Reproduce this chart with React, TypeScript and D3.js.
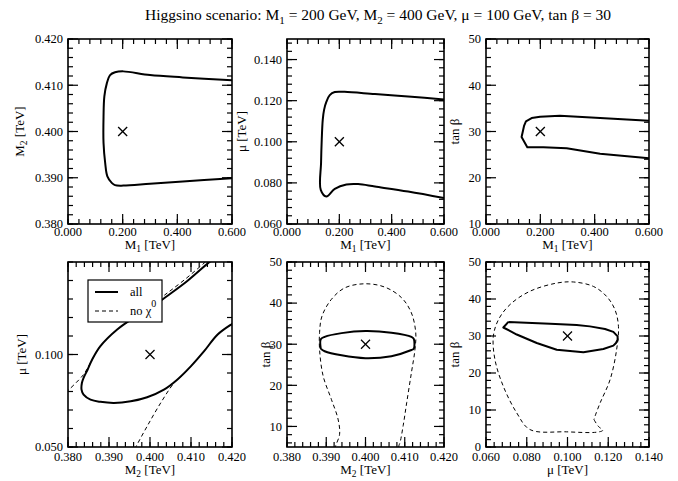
import React from 'react';
import * as d3 from 'd3';

type Pt = [number, number];

// ---------- tick values ----------
const M1_TICKS = [0, 0.2, 0.4, 0.6];
const M2_TOP_TICKS = [0.38, 0.39, 0.4, 0.41, 0.42];
const MU_TOP_TICKS = [0.06, 0.08, 0.1, 0.12, 0.14];
const TANB_TOP_TICKS = [10, 20, 30, 40, 50];
const M2_TICKS = [0.38, 0.39, 0.4, 0.41, 0.42];
const MU_BL_TICKS = [0.05, 0.1];
const TANB_BM_TICKS = [10, 20, 30, 40, 50];
const MU_BR_TICKS = [0.06, 0.08, 0.1, 0.12, 0.14];
const TANB_BR_TICKS = [0, 10, 20, 30, 40, 50];

// ---------- benchmark point ----------
const BENCH_M1 = 0.2;
const BENCH_M2 = 0.4;
const BENCH_MU = 0.1;
const BENCH_TANB = 30;

// ---------- contours ----------
const M1_M2_ALL: Pt[] = [
  [0.6, 0.4111], [0.42, 0.4117], [0.3, 0.4122], [0.2025, 0.413], [0.172, 0.4128], [0.154, 0.4122],
  [0.142, 0.4104], [0.133, 0.4076], [0.13, 0.4032], [0.13, 0.3975], [0.136, 0.3932], [0.144, 0.3903],
  [0.16, 0.3889], [0.172, 0.3884], [0.2025, 0.3883], [0.3, 0.3887], [0.42, 0.3892], [0.6, 0.3899],
];

const M1_MU_ALL: Pt[] = [
  [0.6, 0.1206], [0.476, 0.1219], [0.336, 0.1232], [0.22, 0.1243], [0.1826, 0.1242], [0.1634, 0.1227],
  [0.1506, 0.1195], [0.1417, 0.1155], [0.1366, 0.1107], [0.1328, 0.1011], [0.1302, 0.0899], [0.129, 0.0766],
  [0.1506, 0.0734], [0.1826, 0.0771], [0.227, 0.0792], [0.272, 0.0794], [0.336, 0.0782], [0.463, 0.0758],
  [0.6, 0.0726],
];

const M1_TANB_ALL: Pt[] = [
  [0.6, 32.3], [0.42, 32.9], [0.272, 33.4], [0.199, 33.2], [0.168, 32.9], [0.147, 32.2], [0.14, 31.2],
  [0.131, 28.8], [0.152, 26.6], [0.211, 26.6], [0.297, 26.4], [0.42, 25.2], [0.6, 24.2],
];

const M2_MU_ALL: Pt[] = [
  [0.416, 0.1525], [0.4145, 0.15], [0.4091, 0.1397], [0.4042, 0.1316], [0.4002, 0.1253], [0.3961, 0.1199],
  [0.392, 0.1135], [0.3879, 0.1045], [0.3859, 0.0973], [0.3848, 0.0919], [0.3838, 0.0874], [0.3834, 0.0847],
  [0.3833, 0.081], [0.3838, 0.0783], [0.3855, 0.0756], [0.3879, 0.0744], [0.3912, 0.0738], [0.3953, 0.0747],
  [0.3993, 0.0769], [0.4034, 0.081], [0.4067, 0.0865], [0.41, 0.0937], [0.4132, 0.1018], [0.4165, 0.1108],
  [0.42, 0.1165], [0.4215, 0.1185],
];
const M2_MU_NOCHI_UPPER: Pt[] = [
  [0.3795, 0.0795], [0.3838, 0.0892], [0.3859, 0.0973], [0.3879, 0.1045], [0.392, 0.1135], [0.3961, 0.1199],
  [0.3998, 0.1258], [0.4036, 0.1322], [0.4083, 0.1402], [0.4135, 0.15], [0.414, 0.151],
];
const M2_MU_NOCHI_LOWER: Pt[] = [
  [0.3963, 0.049], [0.3967, 0.0507], [0.3993, 0.0612], [0.4026, 0.0738], [0.4059, 0.0847], [0.408, 0.0889],
  [0.41, 0.0937], [0.4132, 0.1018], [0.4165, 0.1108], [0.42, 0.1165], [0.4215, 0.1185],
];

const M2_TANB_ALL: Pt[] = [
  [0.3886, 28.9], [0.3886, 31.2], [0.3896, 31.8], [0.3939, 32.7], [0.4, 33.2], [0.4066, 32.8], [0.4117, 31.8],
  [0.4123, 31.3], [0.4123, 28.9], [0.4117, 28.6], [0.4066, 27.1], [0.4, 26.6], [0.3939, 27.3], [0.3896, 28.3],
  [0.3886, 28.9],
];
const M2_TANB_NOCHI: Pt[] = [
  [0.3922, 4.5], [0.3924, 5.3], [0.3934, 8.1], [0.393, 11.8], [0.3913, 16.6], [0.3892, 22.3], [0.3883, 28.7],
  [0.3883, 32.8], [0.3889, 36.8], [0.3913, 40.9], [0.3947, 43.7], [0.3998, 44.7], [0.4049, 43.9],
  [0.4092, 41.3], [0.4117, 37.6], [0.4128, 32.8], [0.4126, 28.7], [0.4117, 23.1], [0.4105, 15.8],
  [0.4096, 10.2], [0.4088, 6.1], [0.4085, 5.3], [0.4084, 4.5],
];

const MU_TANB_ALL: Pt[] = [
  [0.071, 33.8], [0.0914, 33.3], [0.1045, 33.0], [0.111, 32.6], [0.1184, 31.9], [0.1225, 31.1], [0.1246, 29.9],
  [0.1246, 29.0], [0.1238, 28.1], [0.1225, 27.4], [0.1176, 26.5], [0.1078, 25.6], [0.0947, 26.3],
  [0.0849, 28.1], [0.0751, 30.4], [0.0685, 32.3], [0.071, 33.8],
];
const MU_TANB_NOCHI: Pt[] = [
  [0.113, 7.4], [0.1151, 5.6], [0.1173, 4.5], [0.1143, 4.0], [0.0996, 4.1], [0.0816, 4.7], [0.0751, 9.2],
  [0.0685, 16.4], [0.0644, 23.6], [0.0636, 29.9], [0.0661, 34.4], [0.0718, 38.5], [0.0816, 42.1],
  [0.0947, 44.3], [0.1029, 44.6], [0.1127, 43.4], [0.1192, 40.7], [0.1233, 37.1], [0.125, 32.6],
  [0.1241, 26.3], [0.1209, 18.2], [0.116, 11.9], [0.1135, 8.3], [0.113, 7.4],
];

// ---------- layout ----------
const FONT = "'Liberation Serif', 'Times New Roman', Times, serif";
const COLS = [
  [68, 232],
  [287, 444],
  [486, 649],
];
const ROWS = [
  { y0: 39, y1: 224, tickBase: 236, labelBase: 249 },
  { y0: 262, y1: 447, tickBase: 461, labelBase: 474 },
];

type Label = { main: string; sub?: string; rest: string };

type PanelCfg = {
  id: string;
  col: number;
  row: number;
  xDomain: [number, number];
  yDomain: [number, number];
  xTicks: number[];
  yTicks: number[];
  xMinor: [number, number, number];
  yMinor: [number, number, number];
  xFmt: (v: number) => string;
  yFmt: (v: number) => string;
  xLabel: Label;
  yLabel: Label;
  yLabelX: number;
  solid: { pts: Pt[]; smooth: boolean }[];
  dashed: Pt[][];
  mark: Pt;
  legend?: boolean;
};

const f3 = d3.format('.3f');
const f0 = d3.format('d');

const PANELS: PanelCfg[] = [
  {
    id: 'p1', col: 0, row: 0, xDomain: [0, 0.6], yDomain: [0.38, 0.42],
    xTicks: M1_TICKS, yTicks: M2_TOP_TICKS, xMinor: [0, 0.6, 0.04], yMinor: [0.38, 0.42, 0.002],
    xFmt: f3, yFmt: f3,
    xLabel: { main: 'M', sub: '1', rest: ' [TeV]' }, yLabel: { main: 'M', sub: '2', rest: ' [TeV]' }, yLabelX: 24,
    solid: [{ pts: M1_M2_ALL, smooth: true }], dashed: [], mark: [BENCH_M1, BENCH_M2],
  },
  {
    id: 'p2', col: 1, row: 0, xDomain: [0, 0.6], yDomain: [0.06, 0.15],
    xTicks: M1_TICKS, yTicks: MU_TOP_TICKS, xMinor: [0, 0.6, 0.04], yMinor: [0.06, 0.15, 0.004],
    xFmt: f3, yFmt: f3,
    xLabel: { main: 'M', sub: '1', rest: ' [TeV]' }, yLabel: { main: 'μ [TeV]', rest: '' }, yLabelX: 246,
    solid: [{ pts: M1_MU_ALL, smooth: true }], dashed: [], mark: [BENCH_M1, BENCH_MU],
  },
  {
    id: 'p3', col: 2, row: 0, xDomain: [0, 0.6], yDomain: [10, 50],
    xTicks: M1_TICKS, yTicks: TANB_TOP_TICKS, xMinor: [0, 0.6, 0.04], yMinor: [10, 50, 2],
    xFmt: f3, yFmt: f0,
    xLabel: { main: 'M', sub: '1', rest: ' [TeV]' }, yLabel: { main: 'tan β', rest: '' }, yLabelX: 459,
    solid: [{ pts: M1_TANB_ALL, smooth: false }], dashed: [], mark: [BENCH_M1, BENCH_TANB],
  },
  {
    id: 'p4', col: 0, row: 1, xDomain: [0.38, 0.42], yDomain: [0.05, 0.15],
    xTicks: M2_TICKS, yTicks: MU_BL_TICKS, xMinor: [0.38, 0.42, 0.002], yMinor: [0.05, 0.15, 0.01],
    xFmt: f3, yFmt: f3,
    xLabel: { main: 'M', sub: '2', rest: ' [TeV]' }, yLabel: { main: 'μ [TeV]', rest: '' }, yLabelX: 26,
    solid: [{ pts: M2_MU_ALL, smooth: true }], dashed: [M2_MU_NOCHI_UPPER, M2_MU_NOCHI_LOWER],
    mark: [BENCH_M2, BENCH_MU], legend: true,
  },
  {
    id: 'p5', col: 1, row: 1, xDomain: [0.38, 0.42], yDomain: [5, 50],
    xTicks: M2_TICKS, yTicks: TANB_BM_TICKS, xMinor: [0.38, 0.42, 0.002], yMinor: [6, 50, 2],
    xFmt: f3, yFmt: f0,
    xLabel: { main: 'M', sub: '2', rest: ' [TeV]' }, yLabel: { main: 'tan β', rest: '' }, yLabelX: 270,
    solid: [{ pts: M2_TANB_ALL, smooth: true }], dashed: [M2_TANB_NOCHI], mark: [BENCH_M2, BENCH_TANB],
  },
  {
    id: 'p6', col: 2, row: 1, xDomain: [0.06, 0.14], yDomain: [0, 50],
    xTicks: MU_BR_TICKS, yTicks: TANB_BR_TICKS, xMinor: [0.06, 0.14, 0.004], yMinor: [0, 50, 2],
    xFmt: f3, yFmt: f0,
    xLabel: { main: 'μ [TeV]', rest: '' }, yLabel: { main: 'tan β', rest: '' }, yLabelX: 459,
    solid: [{ pts: MU_TANB_ALL, smooth: false }], dashed: [MU_TANB_NOCHI], mark: [BENCH_MU, BENCH_TANB],
  },
];

function LabelText({ l }: { l: Label }) {
  return (
    <>
      {l.main}
      {l.sub ? (
        <tspan dy={3} fontSize={9.5}>{l.sub}</tspan>
      ) : null}
      {l.sub ? <tspan dy={-3}>{l.rest}</tspan> : l.rest}
    </>
  );
}

function Panel({ p }: { p: PanelCfg }) {
  const [x0, x1] = COLS[p.col];
  const { y0, y1, tickBase, labelBase } = ROWS[p.row];
  const x = d3.scaleLinear().domain(p.xDomain).range([x0, x1]);
  const y = d3.scaleLinear().domain(p.yDomain).range([y1, y0]);
  const smoothLine = d3
    .line<Pt>()
    .x((d) => x(d[0]))
    .y((d) => y(d[1]))
    .curve(d3.curveCatmullRom.alpha(0.5));
  const straightLine = d3
    .line<Pt>()
    .x((d) => x(d[0]))
    .y((d) => y(d[1]));

  const eps = 1e-9;
  const xMinor = d3.range(p.xMinor[0], p.xMinor[1] + eps, p.xMinor[2]);
  const yMinor = d3.range(p.yMinor[0], p.yMinor[1] + eps, p.yMinor[2]);
  const MAJ = 10;
  const MIN = 5;

  const tickEls: React.ReactElement[] = [];
  xMinor.forEach((v, i) => {
    const px = x(v);
    if (px < x0 - 0.5 || px > x1 + 0.5) return;
    tickEls.push(<line key={'xm' + i} x1={px} x2={px} y1={y1} y2={y1 - MIN} />);
    tickEls.push(<line key={'xmt' + i} x1={px} x2={px} y1={y0} y2={y0 + MIN} />);
  });
  p.xTicks.forEach((v, i) => {
    const px = x(v);
    tickEls.push(<line key={'xM' + i} x1={px} x2={px} y1={y1} y2={y1 - MAJ} />);
    tickEls.push(<line key={'xMt' + i} x1={px} x2={px} y1={y0} y2={y0 + MAJ} />);
  });
  yMinor.forEach((v, i) => {
    const py = y(v);
    if (py < y0 - 0.5 || py > y1 + 0.5) return;
    tickEls.push(<line key={'ym' + i} x1={x0} x2={x0 + MIN} y1={py} y2={py} />);
    tickEls.push(<line key={'ymr' + i} x1={x1} x2={x1 - MIN} y1={py} y2={py} />);
  });
  p.yTicks.forEach((v, i) => {
    const py = y(v);
    tickEls.push(<line key={'yM' + i} x1={x0} x2={x0 + MAJ} y1={py} y2={py} />);
    tickEls.push(<line key={'yMr' + i} x1={x1} x2={x1 - MAJ} y1={py} y2={py} />);
  });

  const mx = x(p.mark[0]);
  const my = y(p.mark[1]);
  const cs = 4.5;
  const cx = (x0 + x1) / 2;
  const cy = (y0 + y1) / 2;

  return (
    <g>
      <defs>
        <clipPath id={'clip-' + p.id}>
          <rect x={x0} y={y0} width={x1 - x0} height={y1 - y0} />
        </clipPath>
      </defs>
      <g clipPath={`url(#clip-${p.id})`} fill="none" stroke="#000">
        {p.dashed.map((pts, i) => (
          <path key={'d' + i} d={smoothLine(pts) || ''} strokeWidth={1} strokeDasharray="4 3" />
        ))}
        {p.solid.map((s, i) => (
          <path
            key={'s' + i}
            d={(s.smooth ? smoothLine(s.pts) : straightLine(s.pts)) || ''}
            strokeWidth={2}
            strokeLinejoin="round"
          />
        ))}
      </g>
      <g stroke="#000" strokeWidth={1.3}>
        <line x1={mx - cs} x2={mx + cs} y1={my - cs} y2={my + cs} />
        <line x1={mx - cs} x2={mx + cs} y1={my + cs} y2={my - cs} />
      </g>
      <g stroke="#000" strokeWidth={1.2}>{tickEls}</g>
      <rect x={x0} y={y0} width={x1 - x0} height={y1 - y0} fill="none" stroke="#000" strokeWidth={1.6} />
      <g style={{ fontFamily: FONT, fontSize: '12.5px' }} fill="#000">
        {p.xTicks.map((v, i) => (
          <text key={'xl' + i} x={x(v)} y={tickBase} textAnchor="middle">
            {p.xFmt(v)}
          </text>
        ))}
        {p.yTicks.map((v, i) => (
          <text key={'yl' + i} x={x0 - 5} y={y(v)} dy="0.35em" textAnchor="end">
            {p.yFmt(v)}
          </text>
        ))}
      </g>
      <g style={{ fontFamily: FONT, fontSize: '13px' }} fill="#000">
        <text x={cx} y={labelBase} textAnchor="middle">
          <LabelText l={p.xLabel} />
        </text>
        <text x={p.yLabelX} y={cy} textAnchor="middle" transform={`rotate(-90 ${p.yLabelX} ${cy})`}>
          <LabelText l={p.yLabel} />
        </text>
      </g>
      {p.legend ? (
        <g style={{ fontFamily: FONT, fontSize: '12.5px' }}>
          <rect x={88} y={280} width={74} height={42} fill="#fff" stroke="#000" strokeWidth={1.2} />
          <line x1={95} x2={118} y1={292} y2={292} stroke="#000" strokeWidth={2} />
          <text x={130} y={296}>all</text>
          <line x1={95} x2={118} y1={311} y2={311} stroke="#000" strokeWidth={1} strokeDasharray="4 3" />
          <text x={130} y={315}>
            no χ<tspan dy={-8} fontSize={10}>0</tspan>
          </text>
        </g>
      ) : null}
    </g>
  );
}

export default function App() {
  return (
    <svg
      width={678}
      height={481}
      viewBox="0 0 678 481"
      style={{ position: 'absolute', left: 0, top: 0, background: '#fff', fontFamily: FONT }}
    >
      <rect x={0} y={0} width={678} height={481} fill="#fff" />
      <text x={378} y={20} textAnchor="middle" style={{ fontFamily: FONT, fontSize: '15.5px' }} fill="#000">
        Higgsino scenario: M<tspan dy={4} fontSize={11}>1</tspan>
        <tspan dy={-4}> = 200 GeV, M</tspan>
        <tspan dy={4} fontSize={11}>2</tspan>
        <tspan dy={-4}> = 400 GeV, μ = 100 GeV, tan β = 30</tspan>
      </text>
      {PANELS.map((p) => (
        <Panel key={p.id} p={p} />
      ))}
    </svg>
  );
}
